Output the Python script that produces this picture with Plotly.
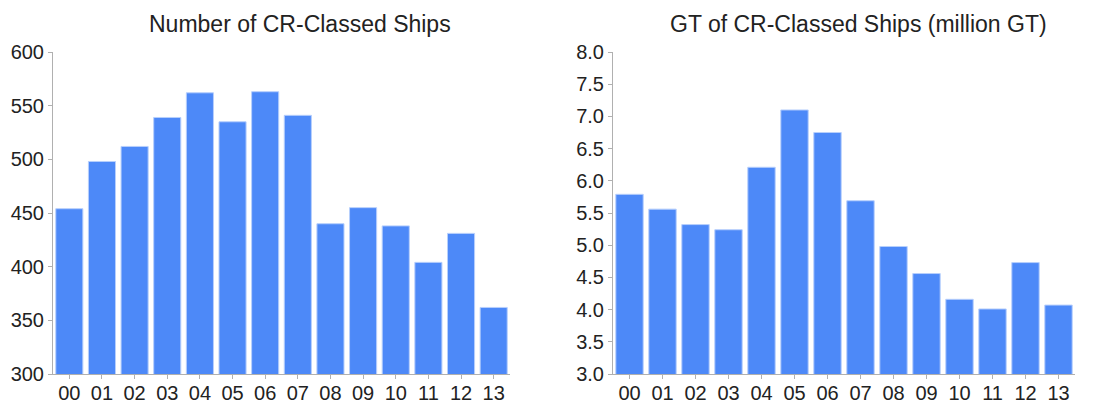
import plotly.graph_objects as go

years = ["00", "01", "02", "03", "04", "05", "06", "07", "08", "09", "10", "11", "12", "13"]
num_ships = [454, 498, 512, 539, 562, 535, 563, 541, 440, 455, 438, 404, 431, 362]
gt_million = [5.79, 5.56, 5.32, 5.24, 6.21, 7.10, 6.75, 5.69, 4.98, 4.56, 4.16, 4.01, 4.73, 4.07]

title_left = "Number of CR-Classed Ships"
title_right = "GT of CR-Classed Ships (million GT)"

bar_color = "#4d89f8"
edge_color = "#b7cffc"
font_family = "Liberation Sans, Arial, sans-serif"

# page body has an 8px default margin; size the figure to fit the window
OFF = 8
W, H = 1107 - OFF, 405 - OFF
# plot area in window pixels: x 53..1075, y 52..374
ml, mt = 53 - OFF, 52 - OFF
mr = W - ml - (1075 - 53)
mb = H - mt - (374 - 52)
pw = W - ml - mr
ph = H - mt - mb

def px_x(x):
    return (x - OFF - ml) / pw

def px_y(y):
    return (H - mb - (y - OFF)) / ph

fig = go.Figure()
fig.add_trace(go.Bar(x=years, y=num_ships, xaxis="x", yaxis="y",
                     marker=dict(color=bar_color, line=dict(color=edge_color, width=1)),
                     hoverinfo="x+y"))
fig.add_trace(go.Bar(x=years, y=gt_million, xaxis="x2", yaxis="y2",
                     marker=dict(color=bar_color, line=dict(color=edge_color, width=1)),
                     hoverinfo="x+y"))

axis_common = dict(showgrid=False, zeroline=False, showline=True, linecolor="#b0b0b0",
                   linewidth=1, ticks="outside", tickcolor="#b0b0b0", ticklen=4,
                   automargin=False,
                   tickfont=dict(size=20, color="#222222", family=font_family))
x_extra = dict(ticklabelstandoff=-3)

fig.update_layout(
    width=W, height=H,
    margin=dict(l=ml, r=mr, t=mt, b=mb),
    paper_bgcolor="white", plot_bgcolor="white",
    showlegend=False,
    bargap=0.17,
    font=dict(family=font_family, color="#222222"),
    xaxis=dict(domain=[0, px_x(510)], anchor="y", **axis_common, **x_extra),
    yaxis=dict(domain=[0, 1], anchor="x", range=[300, 600], tickvals=[300, 350, 400, 450, 500, 550, 600], **axis_common),
    xaxis2=dict(domain=[px_x(613), 1], anchor="y2", **axis_common, **x_extra),
    yaxis2=dict(domain=[0, 1], anchor="x2", range=[3.0, 8.0], dtick=0.5, tickformat=".1f", **axis_common),
    annotations=[
        dict(text=title_left, x=px_x(300), y=px_y(24), xref="paper", yref="paper",
             xanchor="center", yanchor="middle", showarrow=False,
             font=dict(size=23, color="#222222", family=font_family)),
        dict(text=title_right, x=px_x(858), y=px_y(24), xref="paper", yref="paper",
             xanchor="center", yanchor="middle", showarrow=False,
             font=dict(size=23, color="#222222", family=font_family)),
    ],
)

fig.write_html("out.html")
